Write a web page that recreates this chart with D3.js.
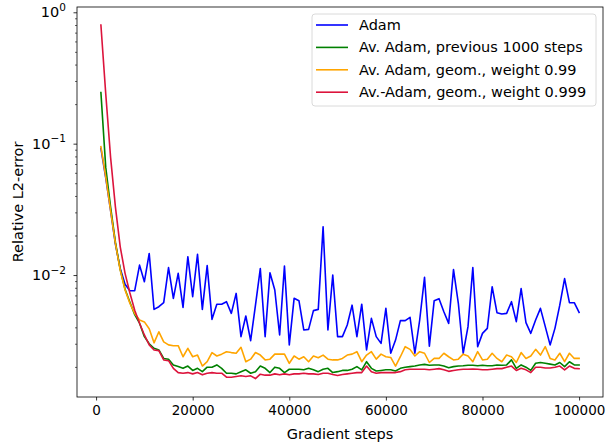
<!DOCTYPE html>
<html>
<head>
<meta charset="utf-8">
<script src="https://cdn.jsdelivr.net/npm/d3@7/dist/d3.min.js"></script>
<style>
  html, body { margin: 0; padding: 0; background: #fff; }
  svg { display: block; font-family: "DejaVu Sans", sans-serif; }
</style>
</head>
<body>
<svg id="chart" width="606" height="445"></svg>
<script>
// ---- data ----
const steps = d3.range(1, 101).map(k => k * 1000);

const adam = [0.092,0.055,0.031,0.0172,0.0112,0.0085,0.0076,0.0076,0.0119,0.0089,
  0.0146,0.00548,0.00574,0.00616,0.0114,0.00665,0.0103,0.00567,0.0138,0.00684,
  0.0144,0.00548,0.0118,0.0046,0.0060,0.0060,0.00627,0.00511,0.00725,0.0034,
  0.00488,0.00317,0.0059,0.0112,0.0034,0.0104,0.0077,0.0035,0.0117,0.00294,
  0.00665,0.00638,0.00382,0.00386,0.00536,0.00548,0.0233,0.00382,0.0100,0.0034,
  0.0034,0.00417,0.0059,0.0034,0.0060,0.00269,0.00468,0.0034,0.00302,0.00558,
  0.00254,0.0032,0.0045,0.0045,0.00477,0.00254,0.00455,0.0096,0.00288,0.00638,
  0.00661,0.00526,0.00429,0.0110,0.0061,0.00254,0.00405,0.0114,0.00285,0.0036,
  0.00393,0.00815,0.00517,0.00505,0.00511,0.00627,0.00442,0.0079,0.00434,0.0036,
  0.00455,0.00558,0.00405,0.00294,0.00393,0.0059,0.0094,0.00616,0.00616,0.0052];

const avgPrev = [0.245,0.066,0.033,0.0178,0.011,0.0078,0.0062,0.0050,0.0043,0.0034,
  0.0030,0.00277,0.00269,0.00232,0.00229,0.00207,0.00201,0.00195,0.00203,0.00188,
  0.00195,0.00184,0.00199,0.00199,0.00207,0.00195,0.00179,0.00179,0.00177,0.00184,
  0.0019,0.00179,0.00184,0.00203,0.00195,0.00181,0.00199,0.00195,0.00181,0.00192,
  0.00192,0.00192,0.0019,0.00195,0.0019,0.00184,0.00192,0.00195,0.00181,0.00184,
  0.00188,0.00188,0.00192,0.00201,0.0019,0.00219,0.00195,0.00186,0.00188,0.0019,
  0.0019,0.00186,0.00195,0.00199,0.00201,0.00203,0.00207,0.00209,0.00206,0.00207,
  0.00207,0.00203,0.00197,0.00201,0.00203,0.00204,0.00206,0.00206,0.00204,0.00206,
  0.00204,0.00204,0.00207,0.00206,0.00207,0.00226,0.00195,0.00207,0.00199,0.00188,
  0.00213,0.00216,0.00213,0.0021,0.00207,0.00216,0.00201,0.00219,0.00207,0.00207];

const avgGeom99 = [0.095,0.056,0.031,0.0174,0.0109,0.0077,0.0061,0.0051,0.00455,0.0044,
  0.0039,0.00305,0.0037,0.0031,0.00294,0.0029,0.0029,0.00239,0.00277,0.00239,
  0.00246,0.00203,0.00219,0.00257,0.00242,0.0025,0.00261,0.00257,0.00254,0.00282,
  0.00219,0.00229,0.00257,0.00246,0.00226,0.00229,0.0025,0.0025,0.0025,0.00213,
  0.00242,0.00229,0.00239,0.00219,0.00242,0.00235,0.00246,0.00229,0.00226,0.00226,
  0.00232,0.00246,0.0025,0.00261,0.00219,0.00246,0.00261,0.00229,0.0025,0.00239,
  0.00236,0.00203,0.00239,0.00285,0.00272,0.00242,0.00261,0.00254,0.00216,0.00232,
  0.00232,0.00254,0.00239,0.00226,0.00229,0.0025,0.00242,0.00219,0.00261,0.00226,
  0.00229,0.00254,0.00232,0.00219,0.00246,0.00239,0.00216,0.00257,0.00232,0.00242,
  0.00272,0.00246,0.00285,0.00232,0.00226,0.00254,0.00219,0.00254,0.00232,0.00232];

const avgGeom999 = [0.80,0.24,0.079,0.033,0.0164,0.0103,0.0073,0.0054,0.0043,0.0035,
  0.00294,0.00269,0.00266,0.00226,0.00223,0.00195,0.00181,0.00179,0.00181,0.00177,
  0.00181,0.00174,0.00179,0.00181,0.00179,0.00179,0.00167,0.00167,0.00169,0.00171,
  0.00169,0.00171,0.00163,0.00176,0.00173,0.00173,0.00177,0.00174,0.00177,0.00174,
  0.00177,0.00177,0.00179,0.00177,0.00177,0.00175,0.00179,0.00179,0.00175,0.00172,
  0.00175,0.00177,0.00179,0.00181,0.00181,0.00203,0.00184,0.00179,0.00181,0.00181,
  0.00181,0.00181,0.00184,0.0019,0.00192,0.00192,0.00192,0.00192,0.0019,0.00192,
  0.00194,0.0019,0.00185,0.00188,0.0019,0.00192,0.00192,0.00193,0.00192,0.0019,
  0.0019,0.00192,0.00194,0.00194,0.00199,0.00203,0.00188,0.00195,0.0019,0.00181,
  0.00199,0.00199,0.00196,0.00196,0.00199,0.00203,0.0019,0.00203,0.00195,0.00194];

const seriesNames = ["Adam", "Av. Adam, previous 1000 steps", "Av. Adam, geom., weight 0.99", "Av.-Adam, geom., weight 0.999"];
const seriesColors = ["#0000ff", "#008000", "#ffa500", "#dc143c"];
const seriesValues = [adam, avgPrev, avgGeom99, avgGeom999];

const xTicks = [0, 20000, 40000, 60000, 80000, 100000];
const yMajorTicks = [1e-2, 1e-1, 1e0];
const yMajorExp = ["\u22122", "\u22121", "0"];
const xLabel = "Gradient steps";
const yLabel = "Relative L2-error";

// ---- layout ----
const W = 606, H = 445;
const margin = {left: 77, right: 3, top: 7, bottom: 48};
const iw = W - margin.left - margin.right;
const ih = H - margin.top - margin.bottom;

const svg = d3.select("#chart");
const g = svg.append("g").attr("transform", `translate(${margin.left},${margin.top})`);

const x = d3.scaleLinear().domain([-3950, 104950]).range([0, iw]);
const y = d3.scaleLog().domain([0.00118, 1.097]).range([ih, 0]);

svg.append("defs").append("clipPath").attr("id", "clip")
  .append("rect").attr("width", iw).attr("height", ih);

// lines
const line = d3.line().x((d, i) => x(steps[i])).y(d => y(d));
const plot = g.append("g").attr("clip-path", "url(#clip)");
seriesValues.forEach((vals, si) => {
  plot.append("path").datum(vals)
    .attr("fill", "none")
    .attr("stroke", seriesColors[si])
    .attr("stroke-width", 1.6)
    .attr("stroke-linejoin", "round")
    .attr("stroke-linecap", "square")
    .attr("d", line);
});

// x axis
const xAxis = g.append("g").attr("transform", `translate(0,${ih})`)
  .call(d3.axisBottom(x).tickValues(xTicks).tickFormat(d3.format("d")).tickSizeOuter(0).tickSize(3.5).tickPadding(5));
xAxis.select(".domain").remove();
xAxis.selectAll("text").attr("font-size", 13.5).attr("fill", "#000").attr("font-family", "DejaVu Sans");
xAxis.selectAll("line").attr("stroke", "#000").attr("stroke-width", 0.8);

// y minor ticks
const minor = [];
[1e-3, 1e-2, 1e-1].forEach(dec => { for (let m = 2; m <= 9; m++) minor.push(dec * m); });
const yMinorVals = minor.filter(v => v >= y.domain()[0] && v <= y.domain()[1]);
const yMinor = g.append("g")
  .call(d3.axisLeft(y).tickValues(yMinorVals).tickFormat("").tickSize(2).tickSizeOuter(0));
yMinor.select(".domain").remove();
yMinor.selectAll("line").attr("stroke", "#000").attr("stroke-width", 0.6);

// y major ticks
const yAxis = g.append("g")
  .call(d3.axisLeft(y).tickValues(yMajorTicks).tickFormat("").tickSize(3.5).tickSizeOuter(0));
yAxis.select(".domain").remove();
yAxis.selectAll("line").attr("stroke", "#000").attr("stroke-width", 0.8);
yMajorTicks.forEach((v, i) => {
  const t = g.append("text")
    .attr("x", -11).attr("y", y(v) + 5)
    .attr("text-anchor", "end")
    .attr("font-size", 14.5).attr("fill", "#000");
  t.append("tspan").text("10");
  t.append("tspan").attr("font-size", 10.5).attr("dy", -6.5).text(yMajorExp[i]);
});

// frame
g.append("rect").attr("width", iw).attr("height", ih)
  .attr("fill", "none").attr("stroke", "#000").attr("stroke-width", 0.8);

// axis labels
svg.append("text").attr("x", margin.left + iw / 2).attr("y", 439)
  .attr("text-anchor", "middle").attr("font-size", 14.5).attr("fill", "#000").text(xLabel);
svg.append("text").attr("transform", `translate(23,${margin.top + ih / 2}) rotate(-90)`)
  .attr("text-anchor", "middle").attr("font-size", 14.5).attr("fill", "#000").text(yLabel);

// legend
const leg = svg.append("g").attr("transform", "translate(312,14)");
leg.append("rect").attr("width", 284).attr("height", 92).attr("rx", 3)
  .attr("fill", "#fff").attr("fill-opacity", 0.8).attr("stroke", "#d0d0d0").attr("stroke-width", 0.8);
seriesNames.forEach((name, i) => {
  const cy = 11 + i * 22.4;
  leg.append("line").attr("x1", 4).attr("x2", 36).attr("y1", cy).attr("y2", cy)
    .attr("stroke", seriesColors[i]).attr("stroke-width", 1.6);
  leg.append("text").attr("x", 47).attr("y", cy + 5)
    .attr("font-size", 14.5).attr("fill", "#000").text(name);
});
</script>
</body>
</html>
